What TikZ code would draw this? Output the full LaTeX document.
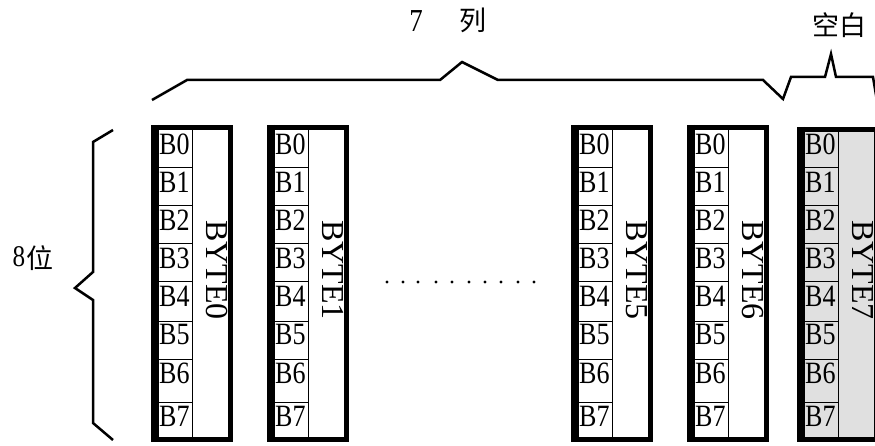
\documentclass[tikz,border=0pt]{standalone}
\usepackage{fontspec}
\setmainfont{Liberation Serif}
\newfontfamily\narrowserif[FakeStretch=0.84]{Liberation Serif}
\newfontfamily\cjk{Noto Sans CJK SC}
\definecolor{bytegray}{HTML}{E0E0E0}
\tikzset{
  bytebox/.style={draw, line width=5pt, outer sep=0pt, inner sep=0pt, minimum width=77pt},
  thinline/.style={line width=1pt},
  leftbar/.style={line width=8pt},
  bitlabel/.style={anchor=west, inner sep=0pt, font=\narrowserif\fontsize{31}{31}\selectfont},
  bytelabel/.style={rotate=-90, inner sep=0pt, font=\fontsize{32}{32}\selectfont},
  bracepath/.style={line width=2.5pt, line join=miter, line cap=butt},
  cjklabel/.style={inner sep=0pt, font=\cjk\fontsize{27}{27}\selectfont},
}
\begin{document}
\begin{tikzpicture}[x=1pt,y=-1pt]
\useasboundingbox (0,0) rectangle (875,446);
\clip (0,0) rectangle (875,446);
% byte columns
\foreach \n/\L/\T/\fc in {0/151/125/white, 1/267/125/white, 5/571/125/white, 6/687/125/white, 7/797/127/bytegray}{
  \node[bytebox, fill=\fc, minimum height={437-\T}] (byte\n) at ({\L+41}, {(\T+442)/2}) {};
  \draw[leftbar] ({\L+4}, \T) -- ({\L+4}, 442);
  \draw[thinline] ({\L+41}, {\T+3}) -- ({\L+41}, 437);
  \foreach \y in {168,206,244,282,321,359,402}{
    \draw[thinline] ({\L+6}, \y) -- ({\L+41}, \y);
  }
  \foreach \k/\yt in {0/130,1/168,2/206,3/244,4/282,5/321,6/359,7/402}{
    \node[bitlabel] (b\n-\k) at ({\L+8}, {\yt+14}) {B\k};
  }
  \node[bytelabel] (lab\n) at ({\L+66}, 270) {BYTE\n};
}
% dots between columns
\foreach \x in {387,403,418,436,452,469,485,501,518,534}{
  \fill (\x,282) circle (1.6pt);
}
% top brace
\draw[bracepath] (152,100) -- (187,80) -- (440,80) -- (462,62) -- (498,80)
  -- (763,80) -- (783,99) -- (791,77) -- (825,77) -- (831,54) -- (836,77)
  -- (873,77) -- (879,113);
% left brace
\draw[bracepath] (113,130) -- (93,142) -- (93,272) -- (75,288) -- (93,300)
  -- (93,423) -- (113,440);
% labels
\node[inner sep=0pt, font=\narrowserif\fontsize{32}{32}\selectfont] (seven) at (416,21) {7};
\node[cjklabel] (lie) at (473,20) {列};
\node[cjklabel] (kongbai) at (839,25) {空白};
\node[inner sep=0pt, font=\narrowserif\fontsize{30}{30}\selectfont] (eight) at (19,257) {8};
\node[cjklabel] (wei) at (40,258) {位};
\end{tikzpicture}
\end{document}
